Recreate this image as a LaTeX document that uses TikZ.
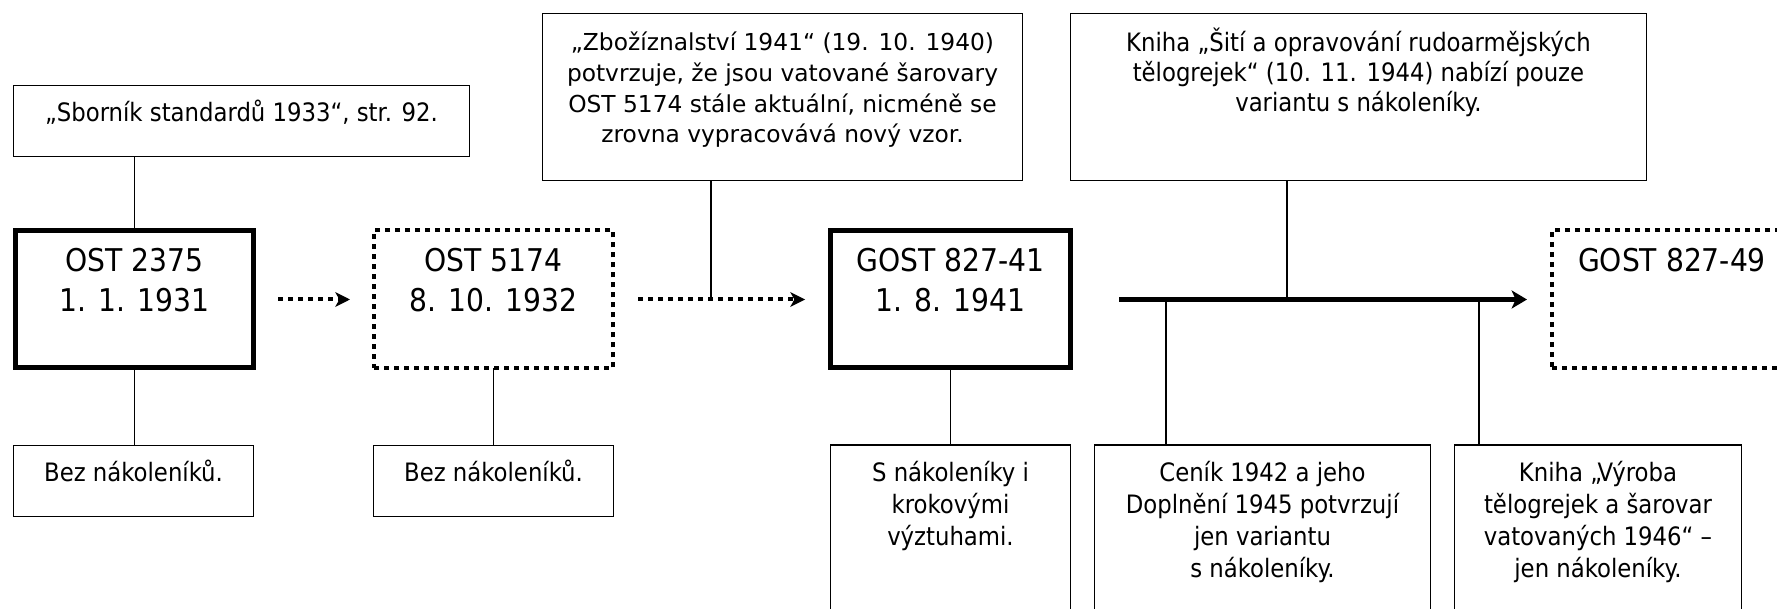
\documentclass[tikz,border=0pt]{standalone}
\usepackage{fontspec}
\setmainfont{DejaVu Sans Condensed}
\newfontfamily\verdanaf{DejaVu Sans}
\usetikzlibrary{arrows.meta}
\newcommand\tstrut{\rule{0pt}{1.05em}}
\begin{document}
\begin{tikzpicture}[x=0.75pt,y=-0.75pt,
  every node/.style={inner sep=0pt, outer sep=0pt},
  thinbox/.style={draw, line width=1pt},
  boldbox/.style={draw, line width=3.75pt},
  dotbox/.style={draw, line width=3pt, dash pattern=on 3.75pt off 3.75pt},
  conn/.style={line width=1pt},
  dotarrow/.style={line width=3pt, dash pattern=on 3.75pt off 3.75pt, -{Stealth[length=11pt, width=11pt, inset=3pt]}},
  thickarrow/.style={line width=3.75pt, -{Stealth[length=11.5pt, width=13.5pt, inset=3pt]}},
  lab/.style={anchor=north, inner sep=0pt, align=center},
  small/.style={lab, font=\fontsize{19}{24}\selectfont},
  smalltop/.style={lab, font=\fontsize{19}{22.5}\selectfont},
  verd/.style={lab, font=\verdanaf\fontsize{17.5}{23}\selectfont},
  big/.style={lab, font=\fontsize{23.5}{30}\selectfont},
]
\path[use as bounding box, clip] (0,0) rectangle (1777,609);
\fill[white] (0,0) rectangle (1777,609);

% top boxes
\node[thinbox, minimum width=456*0.75pt, minimum height=71*0.75pt,
  label={[small, yshift=-7.4pt]north:{\tstrut„Sborník standardů 1933“, str. 92.}}]
  (sbornik) at (241.5,121) {};
\node[thinbox, minimum width=480*0.75pt, minimum height=167*0.75pt,
  label={[verd, yshift=-9.7pt]north:{\tstrut„Zbožíznalství 1941“ (19. 10. 1940)\\potvrzuje, že jsou vatované šarovary\\OST 5174 stále aktuální, nicméně se\\zrovna vypracovává nový vzor.}}]
  (zboz) at (782.5,97) {};
\node[thinbox, minimum width=576*0.75pt, minimum height=167*0.75pt,
  label={[smalltop, yshift=-8.9pt]north:{\tstrut Kniha „Šití a opravování rudoarmějských\\tělogrejek“ (10. 11. 1944) nabízí pouze\\variantu s nákoleníky.}}]
  (siti) at (1358.5,97) {};

% main boxes
\node[boldbox, minimum width=238*0.75pt, minimum height=137*0.75pt,
  label={[big, yshift=-5.7pt]north:{\tstrut OST 2375\\1. 1. 1931}}]
  (ost1) at (134.5,299.5) {};
\node[dotbox, minimum width=239*0.75pt, minimum height=138*0.75pt,
  label={[big, yshift=-6.4pt]north:{\tstrut OST 5174\\8. 10. 1932}}]
  (ost2) at (493.5,299.5) {};
\node[boldbox, minimum width=240*0.75pt, minimum height=137*0.75pt,
  label={[big, yshift=-5.7pt]north:{\tstrut GOST 827-41\\1. 8. 1941}}]
  (gost1) at (950.5,299.5) {};
\node[dotbox, minimum width=240*0.75pt, minimum height=138*0.75pt,
  label={[big, yshift=-6.4pt]north:{\tstrut GOST 827-49}}]
  (gost2) at (1672,299.5) {};

% bottom boxes
\node[thinbox, minimum width=240*0.75pt, minimum height=71*0.75pt,
  label={[small, yshift=-7.4pt]north:{\tstrut Bez nákoleníků.}}]
  (bez1) at (133.5,481) {};
\node[thinbox, minimum width=240*0.75pt, minimum height=71*0.75pt,
  label={[small, yshift=-7.4pt]north:{\tstrut Bez nákoleníků.}}]
  (bez2) at (493.5,481) {};
\node[thinbox, minimum width=240*0.75pt, minimum height=175*0.75pt,
  label={[small, yshift=-7.4pt]north:{\tstrut S nákoleníky i\\krokovými\\výztuhami.}}]
  (snak) at (950.5,532.5) {};
\node[thinbox, minimum width=336*0.75pt, minimum height=175*0.75pt,
  label={[small, yshift=-7.4pt]north:{\tstrut Ceník 1942 a jeho\\Doplnění 1945 potvrzují\\jen variantu\\s nákoleníky.}}]
  (cenik) at (1262.5,532.5) {};
\node[thinbox, minimum width=287*0.75pt, minimum height=175*0.75pt,
  label={[small, yshift=-7.4pt]north:{\tstrut Kniha „Výroba\\tělogrejek a šarovar\\vatovaných 1946“ –\\jen nákoleníky.}}]
  (vyroba) at (1598,532.5) {};

% junction points
\coordinate (j1) at (711,299.5);
\coordinate (j2) at (1287,299.5);
\coordinate (j3) at (1166,299.5);
\coordinate (j4) at (1479,299.5);

% connectors
\draw[conn] (ost1.north) -- (ost1.north |- sbornik.south);
\draw[conn] (ost1.south) -- (ost1.south |- bez1.north);
\draw[conn] (ost2.south) -- (ost2.south |- bez2.north);
\draw[conn] (gost1.south) -- (gost1.south |- snak.north);
\draw[conn] (zboz.south -| j1) -- (j1);
\draw[conn] (siti.south -| j2) -- (j2);
\draw[conn] (j3) -- (j3 |- cenik.north);
\draw[conn] (j4) -- (j4 |- vyroba.north);

% arrows
\draw[dotarrow, shorten <=18.4pt, shorten >=18pt] (ost1) -- (ost2);
\draw[dotarrow, shorten <=18.75pt, shorten >=19.1pt] (ost2) -- (gost1);
\draw[thickarrow, shorten <=36.4pt, shorten >=18.75pt] (gost1) -- (gost2);
\end{tikzpicture}
\end{document}
